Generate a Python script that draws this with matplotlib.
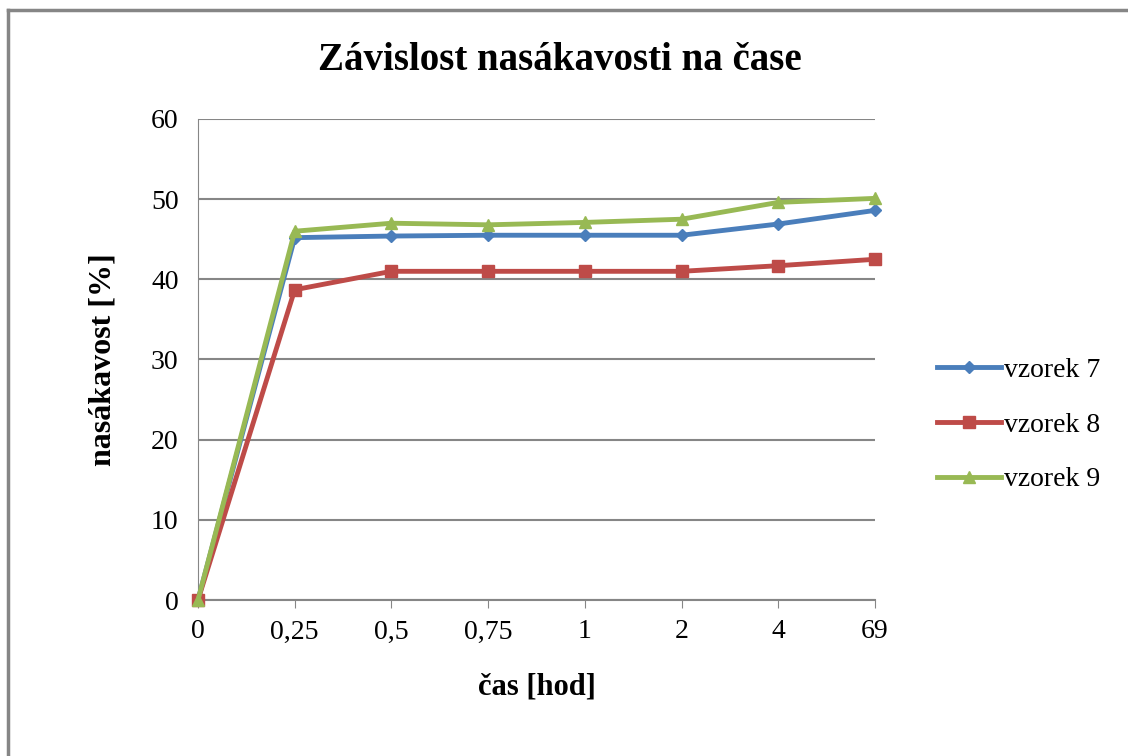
import numpy as np
import matplotlib.pyplot as plt
from matplotlib.lines import Line2D

# data
casy = ['0', '0,25', '0,5', '0,75', '1', '2', '4', '69']
vzorek7 = [0, 45.2, 45.4, 45.5, 45.5, 45.5, 46.9, 48.6]
vzorek8 = [0, 38.7, 41.0, 41.0, 41.0, 41.0, 41.7, 42.5]
vzorek9 = [0, 46.0, 47.0, 46.8, 47.1, 47.5, 49.6, 50.1]

plt.rcParams['font.family'] = ['Liberation Serif', 'DejaVu Serif']

fig = plt.figure(figsize=(11.28, 7.56), dpi=100)
ax = fig.add_axes([198/1128, 1 - 600/756, 677/1128, 481/756])

x = np.arange(len(casy))
ax.plot(x, vzorek7, color='#4a7ebb', lw=3.5, marker='D', ms=6, label='vzorek 7', clip_on=False, zorder=3)
ax.plot(x, vzorek8, color='#be4b48', lw=3.5, marker='s', ms=9, label='vzorek 8', clip_on=False, zorder=3)
ax.plot(x, vzorek9, color='#98b954', lw=3.5, marker='^', ms=9, label='vzorek 9', clip_on=False, zorder=3)

ax.set_xlim(0, len(casy) - 1)
ax.set_ylim(0, 60)
ax.set_xticks(x)
ax.set_xticklabels(casy)
ax.set_yticks(range(0, 61, 10))
ax.grid(axis='y', color='#868686', lw=1.5)
ax.set_axisbelow(True)
for s in ['top', 'right']:
    ax.spines[s].set_visible(False)
ax.spines['left'].set_color('#868686')
ax.spines['bottom'].set_color('#868686')
ax.spines['bottom'].set_linewidth(1.5)
ax.tick_params(axis='y', length=0, labelsize=20, pad=14)
ax.tick_params(axis='x', length=6, color='#868686', labelsize=20, pad=8)

ax.set_xlabel('čas [hod]', fontsize=22, fontweight='bold', labelpad=20)
ax.set_ylabel('nasákavost [%]', fontsize=23, fontweight='bold', labelpad=24)
fig.text(560/1128, 1 - 60/756, 'Závislost nasákavosti na čase', ha='center', va='center',
         fontsize=28, fontweight='bold')

ax.legend(loc='center left', bbox_to_anchor=(912/1128, 1 - 425/756), bbox_transform=fig.transFigure,
          frameon=False, fontsize=20, handlelength=2.3, handletextpad=0.1, labelspacing=1.05)

# outer frame: only top and left edges are visible
fig.add_artist(Line2D([8/1128, 1], [1 - 10/756, 1 - 10/756], transform=fig.transFigure,
                      color='#868686', lw=2.5))
fig.add_artist(Line2D([8/1128, 8/1128], [0, 1 - 10/756], transform=fig.transFigure,
                      color='#868686', lw=2.5))

plt.savefig('out.png', dpi=100)
